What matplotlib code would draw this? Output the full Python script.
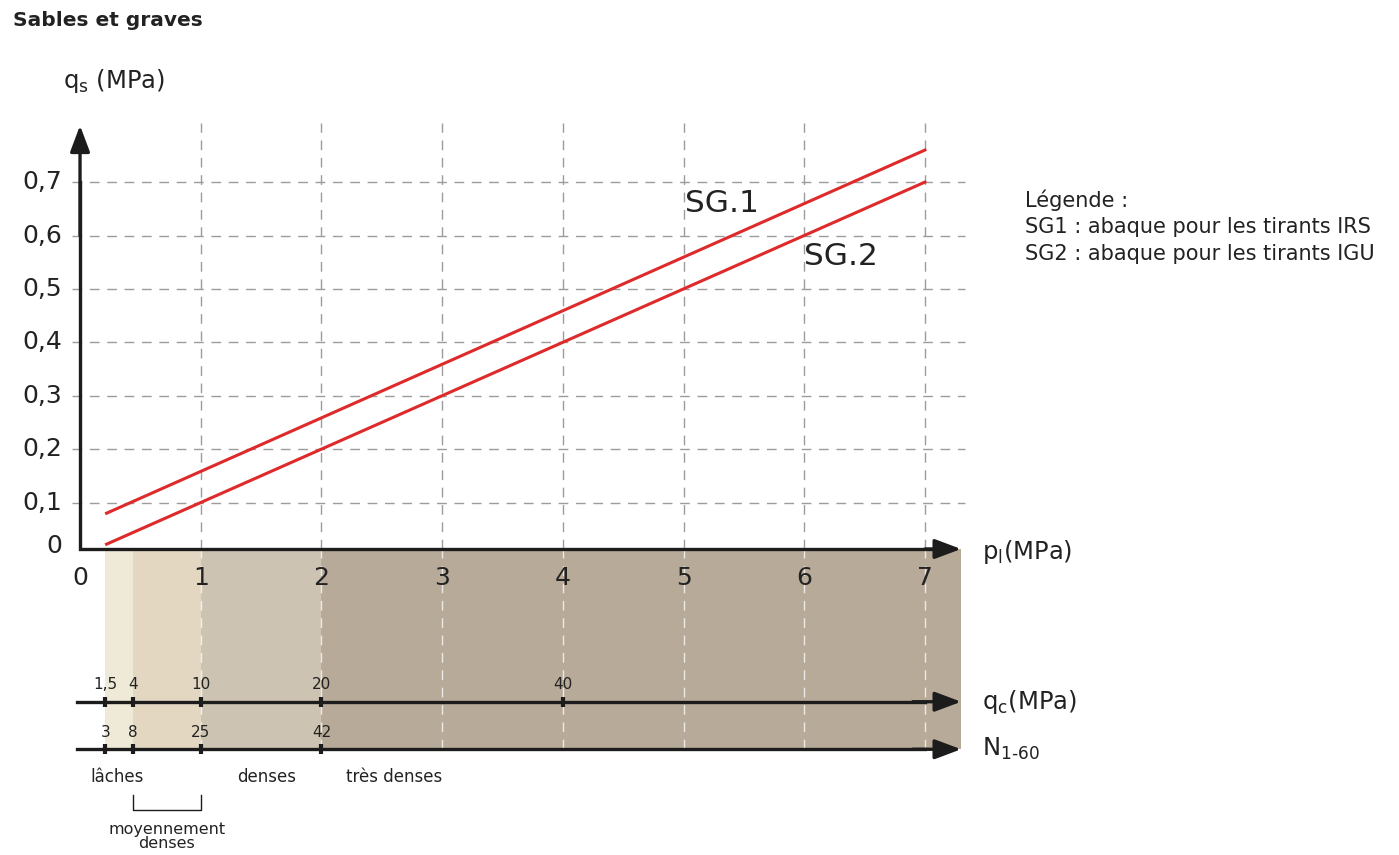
import matplotlib
matplotlib.use("Agg")
import matplotlib.pyplot as plt

plt.rcParams["font.family"] = ["DejaVu Sans"]
plt.rcParams["mathtext.default"] = "regular"

# data
pl_sg = [0.22, 7.0]
qs_sg1 = [0.08, 0.76]
qs_sg2 = [0.022, 0.70]

x_ticks = [0, 1, 2, 3, 4, 5, 6, 7]
y_ticks = [0.1, 0.2, 0.3, 0.4, 0.5, 0.6, 0.7]
y_labels = ["0,1", "0,2", "0,3", "0,4", "0,5", "0,6", "0,7"]

qc_pos = [0.21, 0.44, 1.0, 2.0, 4.0]
qc_labels = ["1,5", "4", "10", "20", "40"]
n_pos = [0.21, 0.44, 1.0, 2.0]
n_labels = ["3", "8", "25", "42"]

band_edges = [0.21, 0.44, 1.0, 2.0, 7.3]
band_colors = ["#efe9d8", "#e3d7c2", "#ccc3b2", "#b7aa99"]

density_names = ["lâches", "denses", "très denses"]
density_x = [0.31, 1.55, 2.6]

fig = plt.figure(figsize=(13.99, 8.55), dpi=100)
ax = fig.add_axes([0, 0, 1, 1])
ax.set_xlim(-0.663, 10.928)
ax.set_ylim(-0.560, 1.041)
ax.axis("off")

x0 = 0.013      # height of the p_l axis line
y_qc = -0.273
y_n = -0.362
x_end = 7.3
dash = (7, 5.5)
black = "#1c1c1c"

# colour bands under the axis
for i in range(len(band_colors)):
    ax.fill_between([band_edges[i], band_edges[i + 1]], y_n, x0,
                    color=band_colors[i], lw=0, zorder=1)

# grid
for x in x_ticks[1:]:
    ax.plot([x, x], [x0, 0.81], color="#9c9c9c", lw=1, dashes=dash, zorder=2)
    ax.plot([x, x], [y_n, x0], color="white", lw=1, alpha=0.75, dashes=dash, zorder=2)
for y in y_ticks:
    ax.plot([-0.07, 7.33], [y, y], color="#9c9c9c", lw=1, dashes=dash, zorder=2)

# curves
ax.plot(pl_sg, qs_sg1, color="#de2a2a", lw=2.2, zorder=4)
ax.plot(pl_sg, qs_sg2, color="#de2a2a", lw=2.2, zorder=4)
ax.text(5.01, 0.66, "SG.1", fontsize=22.5, va="center", color="#222222")
ax.text(6.0, 0.56, "SG.2", fontsize=22.5, va="center", color="#222222")

# main axes with arrows
arrow = dict(arrowstyle="-|>,head_length=0.8,head_width=0.3", lw=2.4,
             color=black, mutation_scale=20, shrinkA=0, shrinkB=0)
ax.plot([0, 0, 7.1], [0.7, x0, x0], color=black, lw=2.4,
        solid_joinstyle="miter", zorder=5)
ax.annotate("", xy=(0, 0.806), xytext=(0, 0.6), arrowprops=arrow, zorder=5)
ax.annotate("", xy=(x_end, x0), xytext=(7.0, x0), arrowprops=arrow, zorder=5)

for x in x_ticks:
    ax.text(x, -0.042, str(x), fontsize=18, ha="center", va="center", color="#222222", zorder=6)
ax.text(-0.15, 0.018, "0", fontsize=18, ha="right", va="center", color="#222222")
for y, lab in zip(y_ticks, y_labels):
    ax.text(-0.15, y, lab, fontsize=18, ha="right", va="center", color="#222222")

ax.text(-0.14, 0.89, "q$_s$ (MPa)", fontsize=17.5, va="center", color="#222222")
ax.text(7.47, 0.007, "p$_l$(MPa)", fontsize=17.5, va="center", color="#222222")

# q_c and N axes
for yy in [y_qc, y_n]:
    ax.plot([-0.025, 7.0], [yy, yy], color=black, lw=2.4, zorder=5)
    ax.annotate("", xy=(x_end, yy), xytext=(6.9, yy), arrowprops=arrow, zorder=5)
ax.plot(qc_pos, [y_qc] * len(qc_pos), ls="none", marker="|", ms=7, mew=3, color=black, zorder=6)
ax.plot(n_pos, [y_n] * len(n_pos), ls="none", marker="|", ms=7, mew=3, color=black, zorder=6)
for x, lab in zip(qc_pos, qc_labels):
    ax.text(x, -0.240, lab, fontsize=11, ha="center", va="center", color="#222222", zorder=6)
for x, lab in zip(n_pos, n_labels):
    ax.text(x, -0.330, lab, fontsize=11, ha="center", va="center", color="#222222", zorder=6)
ax.text(7.47, y_qc, "q$_c$(MPa)", fontsize=17.5, va="center", color="#222222")
ax.text(7.47, y_n, "N$_{1\u201060}$", fontsize=17.5, va="center", color="#222222")

# density classes
for x, name in zip(density_x, density_names):
    ax.text(x, -0.414, name, fontsize=12, ha="center", va="center", color="#222222")
ax.plot([0.44, 0.44, 1.0, 1.0], [-0.448, -0.476, -0.476, -0.448], color=black, lw=1)
ax.text(0.72, -0.525, "moyennement\ndenses", fontsize=11.5, ha="center", va="center",
        linespacing=0.95, color="#222222")

# legend text
ax.text(7.83, 0.666, "Légende :", fontsize=15, va="center", color="#222222")
ax.text(7.83, 0.616, "SG1 : abaque pour les tirants IRS", fontsize=15, va="center", color="#222222")
ax.text(7.83, 0.565, "SG2 : abaque pour les tirants IGU", fontsize=15, va="center", color="#222222")

fig.text(13 / 1399, 1 - 20 / 855, "Sables et graves", fontsize=14.5, fontweight="bold",
         va="center", color="#222222")

fig.savefig("out.png", dpi=100)
